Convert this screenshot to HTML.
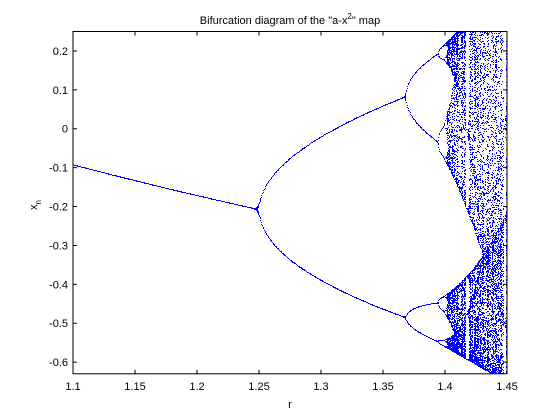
<!DOCTYPE html>
<html><head><meta charset="utf-8">
<style>
html,body{margin:0;padding:0;background:#fff;width:560px;height:420px;overflow:hidden}
svg{display:block;font-family:"Liberation Sans",Arial,sans-serif}
</style></head>
<body>
<svg id="chart" width="560" height="420" viewBox="0 0 560 420">
  <rect x="0" y="0" width="560" height="420" fill="#fff"/>
  <rect x="73" y="31.5" width="434" height="342.3" fill="#fff"/>
  <defs><clipPath id="clip"><rect x="73" y="31.5" width="434" height="342.3"/></clipPath></defs>
  <g id="points" clip-path="url(#clip)"></g>
  <rect x="73" y="31.5" width="434" height="342.3" fill="none" stroke="#000" stroke-width="1"/>
  <g id="xticks"></g>
  <g id="yticks"></g>
  <text x="290" y="24" font-size="11" text-anchor="middle">Bifurcation diagram of the "a-x<tspan font-size="8" dy="-5">2</tspan><tspan dy="5">" map</tspan></text>
  <text x="290" y="408" font-size="11" text-anchor="middle">r</text>
  <text transform="translate(37,205) rotate(-90)" font-size="11" text-anchor="middle">x<tspan font-size="8" dy="4">n</tspan></text>
</svg>
<script>
const xTicks = [1.1, 1.15, 1.2, 1.25, 1.3, 1.35, 1.4, 1.45];
const xTickLabels = ["1.1","1.15","1.2","1.25","1.3","1.35","1.4","1.45"];
const yTicks = [0.2, 0.1, 0, -0.1, -0.2, -0.3, -0.4, -0.5, -0.6];
const yTickLabels = ["0.2","0.1","0","-0.1","-0.2","-0.3","-0.4","-0.5","-0.6"];
const rRange = [1.1, 1.45];
const yRange = [-0.63, 0.25];
const rSteps = [700];
const iterCounts = [500, 250]; // transient, plotted

const L=73,T=31.5,W=434,H=342.3;
const sx = v => L + (v - rRange[0]) / (rRange[1] - rRange[0]) * W;
const sy = v => T + (yRange[1] - v) / (yRange[1] - yRange[0]) * H;
const NS='http://www.w3.org/2000/svg';

const xg=document.getElementById('xticks');
xTicks.forEach((t,i)=>{
  const x=sx(t);
  const l1=document.createElementNS(NS,'path');
  l1.setAttribute('d',`M${x} ${T+H}v-4M${x} ${T}v4`);
  l1.setAttribute('stroke','#000');
  
  
  xg.appendChild(l1);
  const tx=document.createElementNS(NS,'text');
  tx.setAttribute('x',x);tx.setAttribute('y',T+H+16);
  tx.setAttribute('font-size','11');tx.setAttribute('text-anchor','middle');
  tx.textContent=xTickLabels[i];
  
  
  xg.appendChild(tx);
});
const yg=document.getElementById('yticks');
yTicks.forEach((t,i)=>{
  const y=sy(t);
  const l1=document.createElementNS(NS,'path');
  l1.setAttribute('d',`M${L} ${y}h4M${L+W} ${y}h-4`);
  l1.setAttribute('stroke','#000');
  
  
  yg.appendChild(l1);
  const tx=document.createElementNS(NS,'text');
  tx.setAttribute('x',L-5);tx.setAttribute('y',y+4);
  tx.setAttribute('font-size','11');tx.setAttribute('text-anchor','end');
  tx.textContent=yTickLabels[i];
  
  
  yg.appendChild(tx);
});

// iterate the map x -> r - x^2
const seen=new Set();
let d='';
const n=rSteps[0];
for(let k=0;k<=n;k++){
  const r=rRange[0]+(rRange[1]-rRange[0])*k/n;
  let x=0;
  for(let j=0;j<iterCounts[0];j++) x=r-x*x;
  for(let j=0;j<iterCounts[1];j++){
    x=r-x*x;
    if(x<yRange[0]||x>yRange[1]) continue;
    const px=Math.round(sx(r)), py=Math.round(sy(x));
    const key=px*1000+py;
    if(seen.has(key)) continue;
    seen.add(key);
    d+=`M${px} ${py}h1v1h-1z`;
  }
}
const p=document.createElementNS(NS,'path');
p.setAttribute('d',d);
p.setAttribute('fill','#0000ff');


document.getElementById('points').appendChild(p);
</script>
</body></html>
